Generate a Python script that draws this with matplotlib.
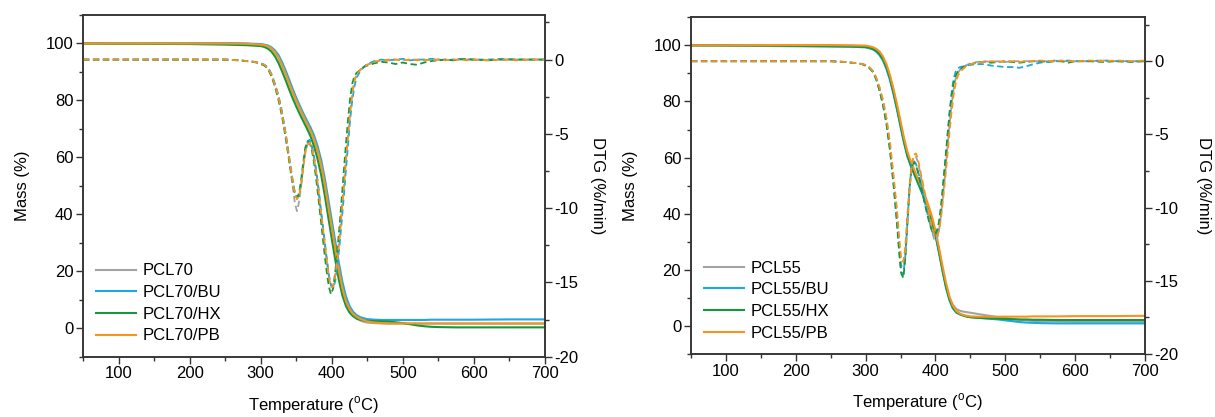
import matplotlib
matplotlib.use('Agg')
import matplotlib.pyplot as plt
from matplotlib.ticker import MultipleLocator

plt.rcParams['font.family'] = ['Liberation Sans', 'DejaVu Sans']
plt.rcParams['mathtext.fontset'] = 'custom'
plt.rcParams['mathtext.rm'] = 'Liberation Sans'
plt.rcParams['axes.unicode_minus'] = False

# temperature grids (degC)
T_tga = [50, 100, 200, 250, 280, 300, 305, 310, 315, 320,
         325, 330, 335, 340, 345, 350, 355, 360, 365, 370,
         375, 380, 385, 390, 395, 400, 405, 410, 415, 420,
         425, 430, 435, 440, 445, 450, 460, 470, 480, 490,
         500, 510, 520, 530, 540, 550, 575, 600, 650, 700]
T_dtg = [50, 100, 200, 250, 270, 280, 290, 295, 300, 305,
         310, 315, 320, 325, 330, 335, 340, 345, 348, 351,
         354, 357, 360, 363, 366, 369, 372, 375, 378, 381,
         384, 387, 390, 393, 396, 399, 402, 405, 408, 411,
         414, 417, 420, 423, 426, 429, 432, 435, 440, 445,
         450, 460, 470, 480, 490, 500, 510, 520, 530, 540,
         550, 560, 570, 580, 590, 600, 620, 640, 660, 680, 700]

# ---- PCL70 mass (%) ----
mass_pcl70 = [100, 100, 100, 100, 99.9, 99.6, 99.4, 99.0, 98.2, 96.8,
              95.0, 92.3, 89.3, 86.0, 82.8, 79.8, 77.0, 74.3, 71.8, 69.2,
              66.2, 62.2, 57.2, 50.7, 42.7, 35.2, 27.7, 20.2, 13.7, 9.0,
              6.2, 4.5, 3.4, 2.7, 2.3, 2.0, 1.8, 1.7, 1.6, 1.6,
              1.6, 1.6, 1.6, 1.6, 1.6, 1.6, 1.6, 1.6, 1.6, 1.6]
mass_pcl70_bu = [100, 100, 100.1, 100.1, 100, 99.8, 99.6, 99.3, 98.7, 97.6,
                 96.0, 93.5, 90.6, 87.4, 84.1, 81.0, 78.2, 75.5, 73.0, 70.6,
                 67.8, 64.0, 59.3, 53.0, 45.5, 38.0, 30.5, 23.0, 16.3, 11.2,
                 7.8, 5.8, 4.6, 3.9, 3.5, 3.2, 3.0, 2.9, 2.9, 2.9,
                 2.9, 2.9, 2.9, 2.9, 3.0, 3.0, 3.0, 3.0, 3.1, 3.1]
mass_pcl70_hx = [100, 99.9, 99.8, 99.6, 99.4, 99.1, 98.8, 98.2, 97.2, 95.5,
                 93.2, 90.3, 87.2, 83.9, 80.8, 77.9, 75.2, 72.7, 70.2, 67.5,
                 64.0, 59.5, 54.0, 47.0, 39.2, 31.5, 24.0, 17.0, 11.5, 7.8,
                 5.5, 4.2, 3.4, 3.0, 2.7, 2.6, 2.5, 2.4, 2.3, 2.1,
                 1.8, 1.4, 1.0, 0.7, 0.5, 0.4, 0.3, 0.3, 0.3, 0.3]
mass_pcl70_pb = [100, 100, 100, 100, 99.9, 99.6, 99.4, 99.0, 98.3, 97.0,
                 95.2, 92.5, 89.5, 86.2, 83.0, 80.0, 77.2, 74.5, 72.0, 69.5,
                 66.5, 62.5, 57.5, 51.0, 43.0, 35.5, 28.0, 20.5, 14.0, 9.5,
                 6.8, 5.0, 4.0, 3.3, 2.8, 2.4, 2.0, 1.8, 1.7, 1.7,
                 1.7, 1.7, 1.7, 1.7, 1.7, 1.7, 1.7, 1.7, 1.7, 1.7]

# ---- PCL70 DTG (%/min) ----
dtg_pcl70 = [0, 0, 0, 0, -0.05, -0.1, -0.15, -0.2, -0.25, -0.35,
             -0.55, -1.0, -1.7, -2.5, -3.6, -5.0, -6.7, -8.5, -9.6, -10.2,
             -9.6, -8.5, -7.2, -6.2, -5.7, -5.6, -5.9, -6.6, -7.5, -8.6,
             -9.9, -11.1, -12.3, -13.5, -14.6, -15.2, -15.2, -14.5, -13.3, -11.9,
             -10.2, -8.5, -6.7, -5.0, -3.4, -2.2, -1.4, -1.0, -0.7, -0.5,
             -0.35, -0.15, -0.05, 0, 0, -0.05, 0, 0, -0.05, 0,
             0, 0, -0.05, 0, 0, 0, -0.05, 0, 0, 0, 0]
dtg_pcl70_bu = [0, 0, 0, 0, -0.05, -0.1, -0.15, -0.2, -0.25, -0.35,
                -0.5, -0.95, -1.6, -2.4, -3.5, -4.9, -6.5, -8.1, -8.9, -9.3,
                -9.2, -8.4, -7.1, -6.0, -5.5, -5.4, -5.8, -6.5, -7.4, -8.5,
                -9.8, -11.0, -12.2, -13.4, -14.5, -15.2, -15.4, -14.9, -13.8, -12.5,
                -10.9, -9.2, -7.4, -5.7, -4.0, -2.7, -1.8, -1.2, -0.8, -0.5,
                -0.3, -0.1, 0, -0.05, 0, 0.05, -0.05, 0, 0, 0.05,
                0, -0.05, 0, 0.05, 0, 0, 0, 0.05, 0, 0, 0]
dtg_pcl70_hx = [0, 0, 0, 0, -0.05, -0.1, -0.15, -0.2, -0.3, -0.4,
                -0.6, -1.1, -1.8, -2.7, -3.8, -5.2, -6.8, -8.3, -9.0, -9.3,
                -9.0, -8.1, -6.9, -5.9, -5.5, -5.6, -6.1, -6.9, -8.0, -9.2,
                -10.5, -11.8, -13.1, -14.3, -15.3, -15.8, -15.4, -14.3, -12.8, -11.2,
                -9.4, -7.5, -5.7, -4.0, -2.6, -1.6, -1.1, -0.9, -0.7, -0.5,
                -0.4, -0.25, -0.15, -0.2, -0.3, -0.2, -0.3, -0.35, -0.2, -0.1,
                -0.05, 0, -0.05, 0, 0.05, 0, -0.05, 0, 0, 0, 0]
dtg_pcl70_pb = [0, 0, 0, 0, -0.05, -0.1, -0.15, -0.2, -0.25, -0.35,
                -0.55, -1.0, -1.7, -2.5, -3.6, -5.0, -6.6, -8.2, -9.0, -9.4,
                -9.2, -8.4, -7.2, -6.2, -5.7, -5.6, -5.9, -6.6, -7.5, -8.6,
                -9.9, -11.1, -12.3, -13.5, -14.6, -15.3, -15.3, -14.6, -13.4, -12.0,
                -10.3, -8.6, -6.8, -5.1, -3.5, -2.3, -1.4, -1.0, -0.7, -0.5,
                -0.35, -0.15, -0.05, -0.05, 0, -0.05, 0, -0.05, 0, -0.05,
                0, -0.05, 0, 0, -0.05, 0, -0.05, 0, -0.05, 0, 0]

# ---- PCL55 mass (%) ----
mass_pcl55 = [100, 100, 100, 100, 99.9, 99.7, 99.5, 99.1, 98.4, 97.2,
              95.3, 92.4, 88.5, 83.5, 78.0, 72.0, 66.0, 61.0, 57.5, 54.5,
              51.5, 48.5, 45.5, 42.0, 38.0, 33.0, 27.0, 20.5, 14.5, 10.0,
              7.5, 6.0, 5.4, 5.1, 4.9, 4.7, 4.3, 3.9, 3.5, 3.1,
              2.8, 2.5, 2.2, 2.0, 1.8, 1.7, 1.6, 1.5, 1.5, 1.5]
mass_pcl55_bu = [100, 99.9, 99.7, 99.6, 99.5, 99.3, 99.0, 98.6, 97.8, 96.5,
                 94.5, 91.5, 87.5, 82.5, 77.0, 71.0, 65.2, 60.3, 56.8, 53.8,
                 50.8, 47.8, 44.8, 41.2, 37.2, 32.2, 26.2, 19.7, 13.7, 9.2,
                 6.2, 4.7, 4.1, 3.7, 3.4, 3.2, 2.9, 2.7, 2.5, 2.3,
                 2.0, 1.7, 1.4, 1.2, 1.1, 1.0, 0.9, 0.9, 0.9, 0.9]
mass_pcl55_hx = [100, 100, 99.8, 99.7, 99.6, 99.4, 99.2, 98.8, 98.1, 96.9,
                 95.0, 92.1, 88.2, 83.2, 77.6, 71.6, 65.7, 60.6, 57.1, 54.1,
                 51.1, 48.1, 45.1, 41.6, 37.6, 32.6, 26.6, 20.1, 14.1, 9.5,
                 6.5, 4.9, 4.2, 3.7, 3.3, 3.1, 2.9, 2.8, 2.7, 2.6,
                 2.5, 2.4, 2.3, 2.3, 2.2, 2.2, 2.1, 2.1, 2.1, 2.1]
mass_pcl55_pb = [100, 100, 100.1, 100.1, 100, 99.9, 99.7, 99.4, 98.8, 97.8,
                 96.0, 93.2, 89.3, 84.5, 79.0, 73.0, 67.0, 62.0, 58.5, 55.5,
                 52.5, 49.5, 46.5, 43.0, 39.0, 34.0, 28.0, 21.5, 15.5, 10.5,
                 7.2, 5.3, 4.4, 3.9, 3.6, 3.4, 3.3, 3.3, 3.3, 3.3,
                 3.3, 3.3, 3.3, 3.3, 3.4, 3.4, 3.4, 3.5, 3.5, 3.6]

# ---- PCL55 DTG (%/min) ----
dtg_pcl55 = [0, 0, 0, 0, -0.05, -0.1, -0.15, -0.2, -0.25, -0.4,
             -0.65, -1.1, -1.8, -2.7, -4.0, -5.8, -8.0, -10.5, -12.4, -14.0,
             -14.0, -12.6, -10.4, -8.4, -7.1, -6.5, -6.5, -6.9, -7.6, -8.3,
             -9.0, -9.8, -10.5, -11.2, -11.8, -12.3, -12.2, -11.6, -10.5, -9.1,
             -7.6, -6.0, -4.4, -3.0, -1.9, -1.2, -0.8, -0.6, -0.4, -0.25,
             -0.15, -0.05, 0, -0.05, 0, -0.05, 0, 0, 0, 0,
             0, 0, 0.05, 0, 0, 0, 0, 0.05, 0, 0, 0]
dtg_pcl55_bu = [0, 0, 0, 0, -0.05, -0.1, -0.15, -0.2, -0.3, -0.45,
                -0.7, -1.2, -2.0, -3.0, -4.3, -6.1, -8.4, -11.0, -12.9, -14.4,
                -14.6, -13.2, -10.9, -8.6, -7.1, -6.8, -7.0, -7.5, -8.1, -8.8,
                -9.5, -10.1, -10.7, -11.2, -11.7, -11.9, -11.8, -11.2, -10.1, -8.6,
                -7.0, -5.3, -3.6, -2.2, -1.2, -0.7, -0.5, -0.4, -0.35, -0.3,
                -0.25, -0.2, -0.2, -0.3, -0.35, -0.4, -0.4, -0.45, -0.35, -0.2,
                -0.1, -0.05, 0, 0, 0.05, 0, 0, 0.05, 0, 0, 0]
dtg_pcl55_hx = [0, 0, 0, 0, -0.05, -0.1, -0.15, -0.2, -0.3, -0.45,
                -0.7, -1.2, -2.0, -3.0, -4.3, -6.1, -8.4, -11.1, -13.0, -14.5,
                -14.8, -13.4, -11.0, -8.7, -7.2, -6.9, -7.1, -7.6, -8.2, -8.9,
                -9.6, -10.2, -10.8, -11.3, -11.7, -11.8, -11.6, -11.0, -9.9, -8.4,
                -6.8, -5.2, -3.7, -2.4, -1.5, -1.0, -0.7, -0.55, -0.4, -0.3,
                -0.2, -0.1, -0.05, -0.1, -0.05, 0, -0.05, -0.1, -0.05, 0,
                0, -0.05, 0, 0, -0.1, 0, 0, -0.05, 0, -0.05, 0]
dtg_pcl55_pb = [0, 0, 0, 0, -0.05, -0.1, -0.15, -0.2, -0.25, -0.4,
                -0.65, -1.1, -1.8, -2.7, -3.9, -5.6, -7.8, -10.2, -12.0, -13.5,
                -13.7, -12.8, -10.8, -8.6, -7.1, -6.4, -6.3, -6.7, -7.4, -8.1,
                -8.8, -9.5, -10.2, -10.9, -11.5, -11.9, -12.0, -11.6, -10.7, -9.4,
                -8.0, -6.5, -4.9, -3.5, -2.3, -1.5, -1.0, -0.75, -0.5, -0.3,
                -0.2, -0.1, -0.05, 0, -0.05, 0, 0, -0.05, 0, 0,
                0.05, 0, 0, 0.05, 0, 0, 0.05, 0, 0.05, 0, 0.05]

labels70 = ['PCL70', 'PCL70/BU', 'PCL70/HX', 'PCL70/PB']
labels55 = ['PCL55', 'PCL55/BU', 'PCL55/HX', 'PCL55/PB']
colors = ['#a3a3a3', '#1ea7e0', '#17973a', '#f7941d']

FS = 12
SPINE = '#333333'


def draw_panel(rect, masses, dtgs, labels, dtg_pad):
    ax = fig.add_axes(rect)
    ax2 = ax.twinx()
    for m, d, lab, c in zip(masses, dtgs, labels, colors):
        ax.plot(T_tga, m, color=c, lw=1.5, label=lab)
        ax2.plot(T_dtg, d, color=c, lw=1.3, ls=(0, (3.5, 2)))
    ax.set_xlim(50, 700)
    ax.set_ylim(-10, 110)
    ax2.set_ylim(-20, 3)
    ax.xaxis.set_major_locator(MultipleLocator(100))
    ax.xaxis.set_minor_locator(MultipleLocator(50))
    ax.yaxis.set_major_locator(MultipleLocator(20))
    ax.yaxis.set_minor_locator(MultipleLocator(10))
    ax2.yaxis.set_major_locator(MultipleLocator(5))
    ax2.yaxis.set_minor_locator(MultipleLocator(2.5))
    ax.set_yticks([0, 20, 40, 60, 80, 100])
    for a in (ax, ax2):
        for s in a.spines.values():
            s.set_color(SPINE)
            s.set_linewidth(1.1)
        a.tick_params(which='major', direction='out', length=5, width=1.0,
                      color=SPINE, labelsize=FS, pad=2)
        a.tick_params(which='minor', direction='out', length=3, width=1.0,
                      color=SPINE)
    ax.tick_params(axis='y', which='both', right=False)
    ax.set_xlabel(r'Temperature ($^{\mathrm{o}}$C)', fontsize=FS, labelpad=9)
    ax.set_ylabel('Mass (%)', fontsize=FS, labelpad=11)
    ax2.set_ylabel('DTG (%/min)', fontsize=FS, rotation=270, labelpad=dtg_pad)
    ax.legend(loc='lower left', frameon=False, fontsize=FS,
              handlelength=2.4, handletextpad=0.35, labelspacing=0.4,
              borderaxespad=0.3, borderpad=0.5)
    return ax


fig = plt.figure(figsize=(12.15, 4.17), dpi=100)
draw_panel([0.0683, 0.1446, 0.3802, 0.8194],
           [mass_pcl70, mass_pcl70_bu, mass_pcl70_hx, mass_pcl70_pb],
           [dtg_pcl70, dtg_pcl70_bu, dtg_pcl70_hx, dtg_pcl70_pb], labels70, 19)
draw_panel([0.5687, 0.1511, 0.3737, 0.8074],
           [mass_pcl55, mass_pcl55_bu, mass_pcl55_hx, mass_pcl55_pb],
           [dtg_pcl55, dtg_pcl55_bu, dtg_pcl55_hx, dtg_pcl55_pb], labels55, 23)

fig.savefig('out.png', dpi=100)
